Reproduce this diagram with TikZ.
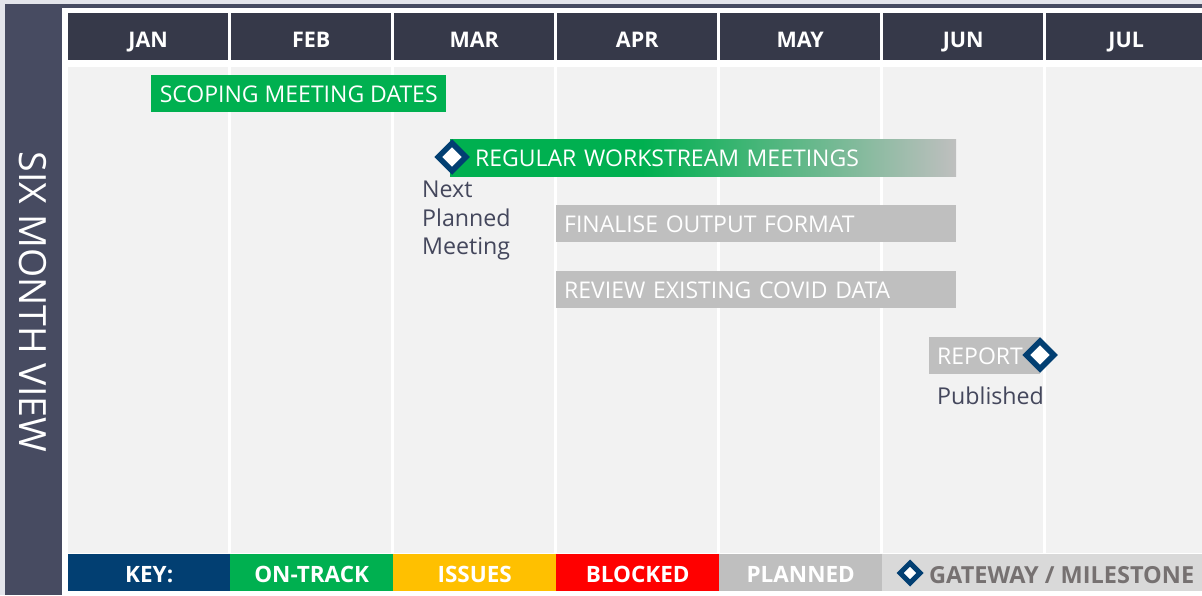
\documentclass[tikz,border=0pt]{standalone}
\usepackage{fontspec}
\setmainfont{Open Sans}
\usetikzlibrary{shapes.geometric}
\definecolor{outerbg}{HTML}{E4E5EB}
\definecolor{sidebar}{HTML}{474B61}
\definecolor{headbg}{HTML}{363949}
\definecolor{bodybg}{HTML}{F2F2F2}
\definecolor{keynavy}{HTML}{023F72}
\definecolor{ontrack}{HTML}{00B050}
\definecolor{issues}{HTML}{FFC000}
\definecolor{blocked}{HTML}{FF0000}
\definecolor{planned}{HTML}{BFBFBF}
\definecolor{gateway}{HTML}{D9D9D9}
\definecolor{gatetext}{HTML}{767171}
\definecolor{darktext}{HTML}{44475C}
\pgfdeclarehorizontalshading{wsfade}{100bp}{color(0bp)=(ontrack); color(25bp)=(ontrack); color(44bp)=(ontrack); color(75bp)=(planned); color(100bp)=(planned)}
\tikzset{
  monthhead/.style={rectangle, fill=headbg, minimum width=160pt, minimum height=47pt, inner sep=0pt, anchor=north west, text=white, text height=21pt, text depth=0pt, font=\fontsize{21.5}{24}\selectfont\bfseries},
  monthbody/.style={rectangle, fill=bodybg, minimum width=160pt, minimum height=486pt, inner sep=0pt, anchor=north west},
  keycell/.style={rectangle, minimum height=37pt, inner sep=0pt, anchor=north west, text=white, text height=19pt, text depth=0pt, font=\fontsize{22.5}{24}\selectfont\bfseries},
  taskbar/.style={rectangle, minimum height=37pt, inner xsep=8pt, inner ysep=0pt, anchor=north west, text=white, align=left, text height=20pt, text depth=2pt, font=\fontsize{23}{27}\selectfont},
  milestone/.style={diamond, draw=keynavy, line width=5.5pt, fill=white, minimum width=30pt, minimum height=30pt, inner sep=0pt},
  note/.style={text=darktext, align=left, inner sep=0pt, anchor=north west, font=\fontsize{23.2}{28.5}\selectfont},
}
\begin{document}
\begin{tikzpicture}[x=1pt,y=-1pt]
\useasboundingbox (0,0) rectangle (1202,595);
\fill[outerbg] (0,0) rectangle (1202,595);
\fill[sidebar] (5,4) rectangle (1202,595);
\fill[white] (62,8) rectangle (1202,595);
\node[rotate=-90, text=white, font=\fontsize{37.5}{40}\selectfont] (title) at (33,302) {SIX MONTH VIEW};
% months
\foreach \m [count=\i from 0] in {JAN,FEB,MAR,APR,MAY,JUN,JUL} {
  \node[monthbody] (body\i) at (68+163*\i,67) {};
  \node[monthhead] (head\i) at (68+163*\i,13) {\m};
}
% key bar
\node[keycell, fill=keynavy, minimum width=162pt] (kkey) at (68,554) {KEY:};
\node[keycell, fill=ontrack, minimum width=163pt] (kon) at (230,554) {ON-TRACK};
\node[keycell, fill=issues, minimum width=163pt] (kiss) at (393,554) {ISSUES};
\node[keycell, fill=blocked, minimum width=163pt] (kblk) at (556,554) {BLOCKED};
\node[keycell, fill=planned, minimum width=163pt] (kpln) at (719,554) {PLANNED};
\node[keycell, fill=gateway, minimum width=320pt] (kgate) at (882,554) {};
\node[milestone, line width=5pt, minimum width=22pt, minimum height=22pt] (kdia) at (910,573) {};
\node[anchor=west, inner sep=0pt, text=gatetext, font=\fontsize{23.5}{24}\selectfont\bfseries] (kgtext) at (929,575) {GATEWAY / MILESTONE};
% tasks
\node[taskbar, fill=ontrack, minimum width=295pt] (scope) at (151,75) {SCOPING MEETING DATES};
\node[taskbar, shading=wsfade, text width=506pt, inner xsep=0pt] (regular) at (450,139) {\hspace*{25pt}REGULAR WORKSTREAM MEETINGS};
\node[milestone] (mnext) at (452,157) {};
\node[note] (nextlbl) at (422,181) {Next\\Planned\\Meeting};
\node[taskbar, fill=planned, text width=384pt] (final) at (556,205) {FINALISE OUTPUT FORMAT};
\node[taskbar, fill=planned, text width=384pt] (review) at (556,271) {REVIEW EXISTING COVID DATA};
\node[taskbar, fill=planned, text width=95pt] (report) at (929,337) {REPORT};
\node[milestone] (mrep) at (1040,355) {};
\node[note] (publbl) at (937,387) {Published};
\end{tikzpicture}
\end{document}
